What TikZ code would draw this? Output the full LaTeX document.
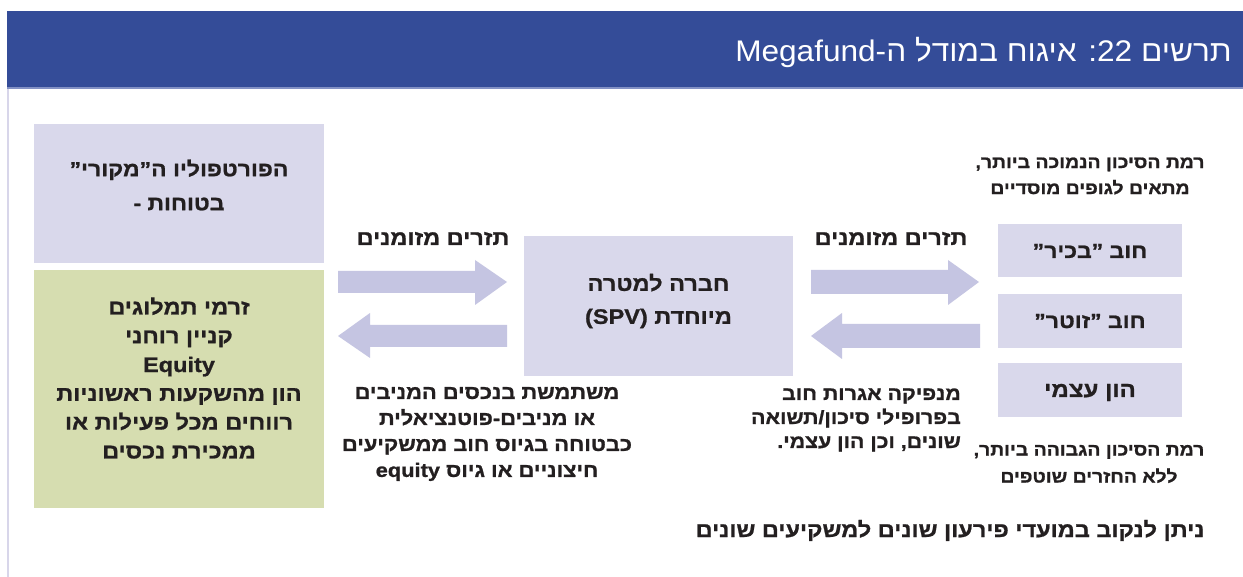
\documentclass[tikz,border=0pt]{standalone}
\usepackage{fontspec}
\setmainfont{Liberation Sans}
\newfontfamily\hebb[Script=Hebrew, FakeStretch=1.12, FakeBold=1]{Liberation Sans Bold}
\newfontfamily\hebtitle[Script=Hebrew, FakeStretch=1.06]{Liberation Sans}
\TeXXeTstate=1
\definecolor{hdrblue}{HTML}{344C98}
\definecolor{hdrline}{HTML}{8391C4}
\definecolor{lav}{HTML}{D9D8EB}
\definecolor{arrowlav}{HTML}{C5C5E2}
\definecolor{olive}{HTML}{D6DDB0}
\definecolor{edge}{HTML}{D8D6EA}
\definecolor{txt}{HTML}{231F20}
\newcommand{\R}[1]{\beginR #1\endR}
\newcommand{\Lt}[1]{\beginL #1\endL{}}
\tikzset{
  fs/.style n args={2}{font=\hebb\fontsize{#1}{#2}\selectfont},
  lbl/.style={text=txt, inner sep=0pt, align=center},
  blockarrow/.style={fill=arrowlav, draw=none},
}
\begin{document}
\begin{tikzpicture}[x=1pt,y=-1pt]
\useasboundingbox (0,0) rectangle (1243,577);
\fill[white] (0,0) rectangle (1243,577);
% header
\fill[hdrblue] (7,11) rectangle (1243,88);
\draw[hdrline, line width=1.2pt] (7,88) -- (1243,88);
\draw[edge, line width=2pt] (8,89) -- (8,577);
\node[anchor=base east, inner sep=0pt, text=white, font=\hebtitle\fontsize{29.8}{32}\selectfont] (title) at (1232,62)
  {\R{תרשים \Lt{22}: איגוח במודל ה-\Lt{Megafund}}};
% left boxes
\path[fill=lav] (34,124) rectangle (324,263);
\node[lbl, fs={20.5}{34}] (portfolio) at (179,185)
  {\R{הפורטפוליו ה”מקורי”}\\\R{בטוחות -}};
\path[fill=olive] (34,270) rectangle (324,508);
\node[lbl, fs={21}{28.8}] (royalty) at (179,378)
  {\R{זרמי תמלוגים}\\\R{קניין רוחני}\\\Lt{Equity}\\\R{הון מהשקעות ראשוניות}\\\R{רווחים מכל פעילות או}\\\R{ממכירת נכסים}};
% SPV
\path[fill=lav] (524,236) rectangle (793,376);
\node[lbl, fs={21}{33}] (spv) at (658.5,301)
  {\R{חברה למטרה}\\\R{מיוחדת \Lt{(SPV)}}};
% right boxes
\path[fill=lav] (998,224) rectangle (1182,277);
\path[fill=lav] (998,294) rectangle (1182,348);
\path[fill=lav] (998,363) rectangle (1182,417);
\node[lbl, fs={20.5}{24}, anchor=base] (senior) at (1090,258) {\R{חוב ”בכיר”}};
\node[lbl, fs={20.5}{24}, anchor=base] (junior) at (1090,328) {\R{חוב ”זוטר”}};
\node[lbl, fs={21.5}{24}, anchor=base] (equity) at (1090,397) {\R{הון עצמי}};
% arrows
\fill[blockarrow] (338,271) -- (475,271) -- (475,260) -- (507,282) -- (475,305) -- (475,293) -- (338,293) -- cycle;
\fill[blockarrow] (507,325) -- (370,325) -- (370,313) -- (338,336) -- (370,358) -- (370,347) -- (507,347) -- cycle;
\fill[blockarrow] (811,270) -- (948,270) -- (948,260) -- (979,282) -- (948,305) -- (948,294) -- (811,294) -- cycle;
\fill[blockarrow] (980,324) -- (842,324) -- (842,313) -- (811,336) -- (842,359) -- (842,348) -- (980,348) -- cycle;
% labels
\node[lbl, fs={21}{24}, anchor=base] (cf1) at (433,245) {\R{תזרים מזומנים}};
\node[lbl, fs={21}{24}, anchor=base] (cf2) at (891,245) {\R{תזרים מזומנים}};
\node[lbl, fs={19.5}{26}] (uses) at (487,434)
  {\R{משתמשת בנכסים המניבים}\\\R{או מניבים-פוטנציאלית}\\\R{כבטוחה בגיוס חוב ממשקיעים}\\\R{חיצוניים או גיוס \Lt{equity}}};
\node[lbl, fs={19}{24}, align=right, anchor=east] (issues) at (961,420)
  {\R{מנפיקה אגרות חוב}\\\R{בפרופילי סיכון/תשואה}\\\R{שונים, וכן הון עצמי.}};
\node[lbl, fs={17.3}{26}] (lowrisk) at (1090,176)
  {\R{רמת הסיכון הנמוכה ביותר,}\\\R{מתאים לגופים מוסדיים}};
\node[lbl, fs={17.3}{27}] (highrisk) at (1089,464)
  {\R{רמת הסיכון הגבוהה ביותר,}\\\R{ללא החזרים שוטפים}};
\node[lbl, fs={21}{24}, anchor=base] (maturity) at (950,537)
  {\R{ניתן לנקוב במועדי פירעון שונים למשקיעים שונים}};
\end{tikzpicture}
\end{document}
